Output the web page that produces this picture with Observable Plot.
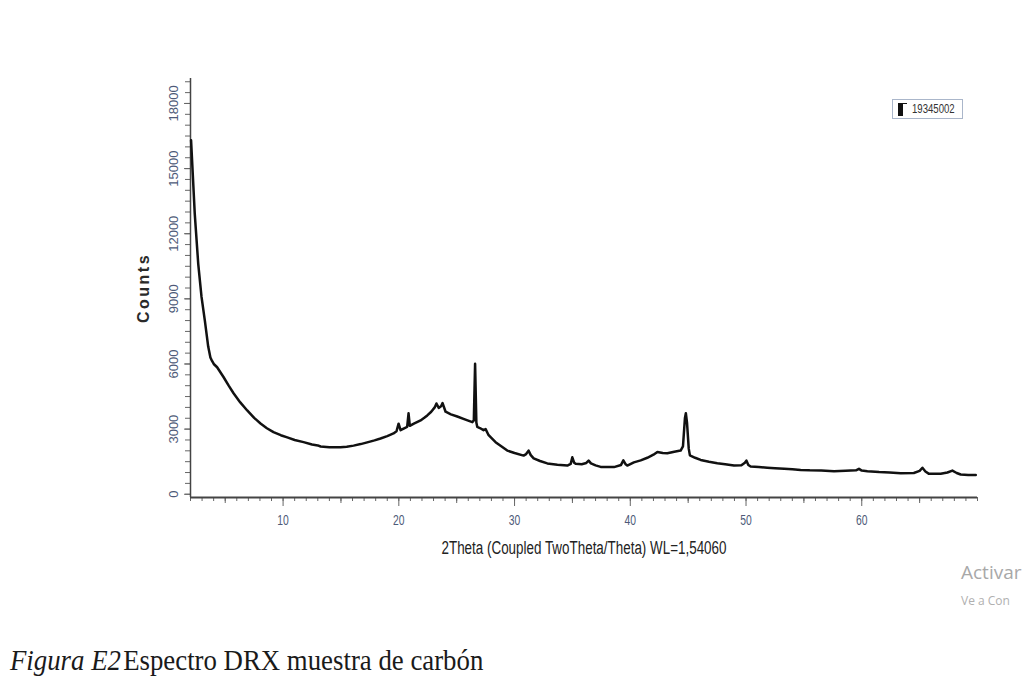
<!DOCTYPE html>
<html>
<head>
<meta charset="utf-8">
<script src="https://cdn.jsdelivr.net/npm/d3@7"></script>
<script src="https://cdn.jsdelivr.net/npm/@observablehq/plot@0.6"></script>
<style>
  html, body { margin: 0; padding: 0; background: #fff; }
  body { width: 1027px; height: 696px; overflow: hidden; position: relative; font-family: "Liberation Sans", Arial, sans-serif; }
  #chart { position: absolute; left: 0; top: 0; }
  #legend { position: absolute; left: 892px; top: 99px; width: 71px; height: 20px; border: 1px solid #aab6ca; background: #fff; box-sizing: border-box; }
  #legend .bar { position: absolute; left: 5px; top: 4px; width: 5px; height: 12px; background: #111; }
  #legend .cap { position: absolute; left: 5px; top: 3px; width: 9px; height: 1px; background: #111; }
  #legend .txt { position: absolute; left: 19px; top: 2px; font-family: "Liberation Sans", Arial, sans-serif; font-size: 12px; color: #333; line-height: 15px; transform: scaleX(0.8); transform-origin: left center; }
  #caption { position: absolute; left: 10px; top: 647px; font-family: "Liberation Serif", "Times New Roman", serif; font-size: 26.8px; color: #1a1a1a; white-space: nowrap; line-height: 30px; transform: scaleY(1.1); transform-origin: left bottom; }
  #wm1 { position: absolute; left: 961px; top: 559px; font-family: "Open Sans", "Noto Sans", sans-serif; font-size: 19px; color: #a8a8a8; white-space: nowrap; }
  #wm2 { position: absolute; left: 961px; top: 592px; font-family: "Open Sans", "Noto Sans", sans-serif; font-size: 12px; color: #b0b0b0; white-space: nowrap; }
</style>
</head>
<body>
<div id="chart"></div>
<div id="legend"><div class="cap"></div><div class="bar"></div><div class="txt" id="legendText"></div></div>
<div id="caption"><i>Figura E2</i>&#8202;Espectro DRX muestra de carbón</div>
<div id="wm1">Activar</div>
<div id="wm2">Ve a Con</div>
<script>
// ---- data ----
const twoTheta = [
  2.05, 2.2, 2.37, 2.67, 2.95, 3.24, 3.53, 3.72, 3.85, 4.01, 4.3, 4.85, 5.3, 5.72, 6.3, 6.9, 7.5, 8.05, 8.6, 9.17,
  9.8, 10.36, 11.0, 11.77, 12.5, 13.0, 13.24, 14.0, 14.96, 15.5, 16.09, 16.7, 17.27, 17.9, 18.42, 19.0, 19.54, 19.8, 19.98, 20.15,
  20.5, 20.72, 20.84, 20.95, 21.3, 21.88, 22.2, 22.46, 22.8, 23.1, 23.25, 23.45, 23.65, 23.78, 24.04, 24.5, 25.05, 25.7, 26.35, 26.48,
  26.59, 26.7, 26.78, 27.0, 27.32, 27.5, 27.76, 28.36, 29.37, 30.0, 30.78, 31.0, 31.21, 31.4, 31.65, 32.2, 32.83, 33.7, 34.56, 34.85,
  34.99, 35.15, 35.28, 35.8, 36.2, 36.4, 36.6, 37.0, 37.44, 38.0, 38.59, 39.2, 39.4, 39.6, 39.74, 40.31, 40.9, 41.47, 42.0, 42.34,
  42.8, 43.2, 43.8, 44.35, 44.55, 44.72, 44.8, 44.9, 45.05, 45.15, 45.6, 46.08, 46.8, 47.52, 48.2, 48.96, 49.6, 49.9, 50.03, 50.2,
  50.4, 51.1, 51.84, 52.5, 53.3, 54.0, 54.72, 55.5, 56.5, 57.6, 58.6, 59.5, 59.76, 60.0, 60.49, 61.5, 62.4, 63.37, 64.5, 65.0,
  65.24, 65.5, 65.81, 66.82, 67.4, 67.83, 68.2, 68.55, 69.2, 69.85
];
const counts = [
  16300, 14700, 12900, 10600, 9100, 8000, 6800, 6300, 6150, 6000, 5850, 5400, 5000, 4650, 4230, 3860, 3520, 3260, 3040, 2860,
  2720, 2620, 2500, 2400, 2290, 2250, 2200, 2170, 2160, 2190, 2240, 2310, 2390, 2480, 2570, 2680, 2800, 2900, 3250, 2950,
  3050, 3100, 3730, 3150, 3250, 3400, 3520, 3630, 3800, 4000, 4180, 3980, 4050, 4200, 3800, 3680, 3580, 3450, 3320, 3400,
  6010, 3300, 3100, 3050, 2950, 3000, 2720, 2400, 2010, 1900, 1780, 1850, 2010, 1800, 1650, 1530, 1420, 1360, 1320, 1400,
  1700, 1450, 1400, 1380, 1440, 1550, 1420, 1330, 1260, 1250, 1250, 1350, 1560, 1380, 1320, 1470, 1560, 1680, 1820, 1950,
  1900, 1890, 1960, 2010, 2200, 3500, 3730, 3300, 2100, 1790, 1680, 1580, 1500, 1430, 1380, 1320, 1330, 1450, 1550, 1350,
  1280, 1250, 1220, 1200, 1170, 1150, 1120, 1100, 1090, 1060, 1080, 1100, 1170, 1090, 1060, 1020, 1000, 970, 980, 1080,
  1220, 1050, 940, 940, 1000, 1090, 980, 910, 890, 890
];
const seriesName = "19345002";
const xTickLabels = [10, 20, 30, 40, 50, 60];
const xMidTicks = [5, 15, 25, 35, 45, 55, 65];
const xMinorTicks = d3.range(2, 71, 1);
const yTickLabels = [0, 3000, 6000, 9000, 12000, 15000, 18000];
const yMinorTicks = d3.range(0, 19001, 500);
const xTitle = "2Theta (Coupled TwoTheta/Theta) WL=1,54060";
const yTitle = "Counts";

// ---- chart ----
const xDomain = [2, 70];
const yDomain = [-150, 19150];
const sans = "Liberation Sans, Arial, sans-serif";
const tickColor = "#4d5a78";
const points = twoTheta.map((t, i) => ({t, c: counts[i]}));

const chart = Plot.plot({
  width: 1027,
  height: 600,
  marginLeft: 190,
  marginRight: 50,
  marginTop: 78,
  marginBottom: 103,
  style: {background: "transparent", overflow: "visible"},
  x: {domain: xDomain, label: null},
  y: {domain: yDomain, label: null},
  marks: [
    Plot.axisX(xMinorTicks, {tickSize: 4, text: null, stroke: "#666", label: null}),
    Plot.axisX(xMidTicks, {tickSize: 6, text: null, stroke: "#666", label: null}),
    Plot.axisX(xTickLabels, {tickSize: 9, tickPadding: 8, stroke: "#666", fill: tickColor, fontFamily: sans, fontSize: 15, label: null, tickFormat: d => String(d)}),
    Plot.axisY(yMinorTicks, {tickSize: 5, text: null, stroke: "#666", label: null}),
    Plot.axisY(yTickLabels, {tickSize: 6, tickRotate: -90, tickPadding: 7, stroke: "#666", fill: tickColor, fontFamily: sans, fontSize: 13, label: null, tickFormat: d => String(d)}),
    Plot.ruleX([xDomain[0]], {stroke: "#444", strokeWidth: 1.5}),
    Plot.ruleY([yDomain[0]], {stroke: "#444", strokeWidth: 2}),
    Plot.line(points, {x: "t", y: "c", stroke: "#111", strokeWidth: 2.5, strokeLinejoin: "round"}),
    Plot.text([xTitle], {frameAnchor: "bottom", lineAnchor: "middle", dy: 51, fontFamily: sans, fontSize: 18, fill: "#222"}),
    Plot.text([yTitle], {frameAnchor: "left", textAnchor: "middle", lineAnchor: "middle", dx: -47, rotate: -90, fontFamily: sans, fontSize: 16, fill: "#2a2a2a"})
  ]
});
const svg = d3.select(chart);
svg.selectAll("text").filter(function () { return this.textContent === yTitle; })
  .attr("letter-spacing", "2.5px").attr("font-weight", "bold");
svg.selectAll("text").filter(function () { return this.textContent === xTitle; })
  .attr("textLength", 285).attr("lengthAdjust", "spacingAndGlyphs");
svg.selectAll("text").filter(function () { return xTickLabels.map(String).includes(this.textContent); })
  .each(function () { d3.select(this).attr("textLength", 11.5).attr("lengthAdjust", "spacingAndGlyphs"); });
document.getElementById("chart").appendChild(chart);
document.getElementById("legendText").textContent = seriesName;
</script>
</body>
</html>
